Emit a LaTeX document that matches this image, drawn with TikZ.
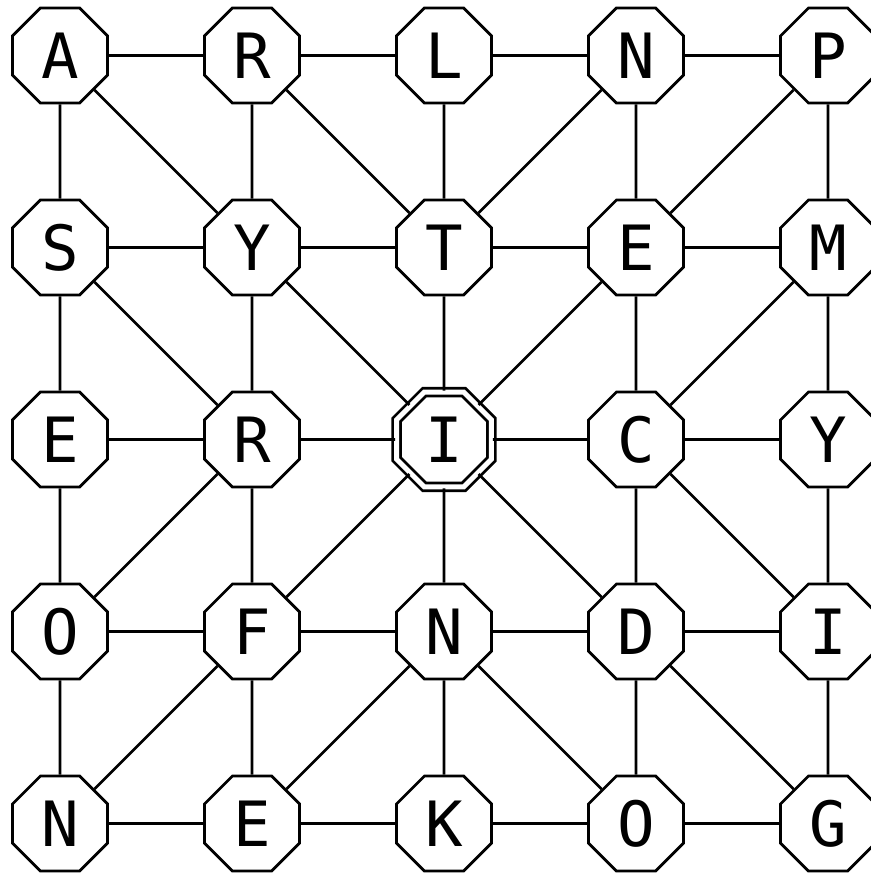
\documentclass[tikz,border=0pt]{standalone}
\usepackage{fontspec}
\newfontfamily\gridfont{DejaVu Sans Mono}
\usetikzlibrary{shapes.geometric,positioning}

\begin{document}
\begin{tikzpicture}[
  node distance=2cm,
  every node/.style={on grid},
  cell/.style={
    regular polygon,
    regular polygon sides=8,
    minimum size=1.07cm,
    inner sep=0pt,
    draw=black,
    fill=white,
    line width=0.8pt,
    font=\gridfont\fontsize{18.5}{20}\selectfont
  },
  centre/.style={cell, double, double distance=1.5pt},
  link/.style={line width=0.8pt, draw=black}
]
\useasboundingbox (-0.625,0.578) rectangle (8.4375,-8.526);

% row 0
\node[cell] (a0) at (0,0) {A};
\node[cell, right=of a0] (r0) {R};
\node[cell, right=of r0] (l0) {L};
\node[cell, right=of l0] (n0) {N};
\node[cell, right=of n0] (p0) {P};

% row 1
\node[cell, below=of a0] (s1) {S};
\node[cell, right=of s1] (y1) {Y};
\node[cell, right=of y1] (t1) {T};
\node[cell, right=of t1] (e1) {E};
\node[cell, right=of e1] (m1) {M};

% row 2
\node[cell, below=of s1] (e2) {E};
\node[cell, right=of e2] (r2) {R};
\node[centre, right=of r2] (i2) {I};
\node[cell, right=of i2] (c2) {C};
\node[cell, right=of c2] (y2) {Y};

% row 3
\node[cell, below=of e2] (o3) {O};
\node[cell, right=of o3] (f3) {F};
\node[cell, right=of f3] (n3) {N};
\node[cell, right=of n3] (d3) {D};
\node[cell, right=of d3] (i3) {I};

% row 4
\node[cell, below=of o3] (n4) {N};
\node[cell, right=of n4] (e4) {E};
\node[cell, right=of e4] (k4) {K};
\node[cell, right=of k4] (o4) {O};
\node[cell, right=of o4] (g4) {G};

% rows
\draw[link] (a0) -- (r0) -- (l0) -- (n0) -- (p0);
\draw[link] (s1) -- (y1) -- (t1) -- (e1) -- (m1);
\draw[link] (e2) -- (r2) -- (i2) -- (c2) -- (y2);
\draw[link] (o3) -- (f3) -- (n3) -- (d3) -- (i3);
\draw[link] (n4) -- (e4) -- (k4) -- (o4) -- (g4);

% columns
\draw[link] (a0) -- (s1) -- (e2) -- (o3) -- (n4);
\draw[link] (r0) -- (y1) -- (r2) -- (f3) -- (e4);
\draw[link] (l0) -- (t1) -- (i2) -- (n3) -- (k4);
\draw[link] (n0) -- (e1) -- (c2) -- (d3) -- (o4);
\draw[link] (p0) -- (m1) -- (y2) -- (i3) -- (g4);

% diagonals
\draw[link] (a0) -- (y1);
\draw[link] (r0) -- (t1);
\draw[link] (n0) -- (t1);
\draw[link] (p0) -- (e1);
\draw[link] (s1) -- (r2);
\draw[link] (y1) -- (i2);
\draw[link] (e1) -- (i2);
\draw[link] (m1) -- (c2);
\draw[link] (r2) -- (o3);
\draw[link] (i2) -- (f3);
\draw[link] (i2) -- (d3);
\draw[link] (c2) -- (i3);
\draw[link] (f3) -- (n4);
\draw[link] (n3) -- (e4);
\draw[link] (n3) -- (o4);
\draw[link] (d3) -- (g4);

\end{tikzpicture}
\end{document}
